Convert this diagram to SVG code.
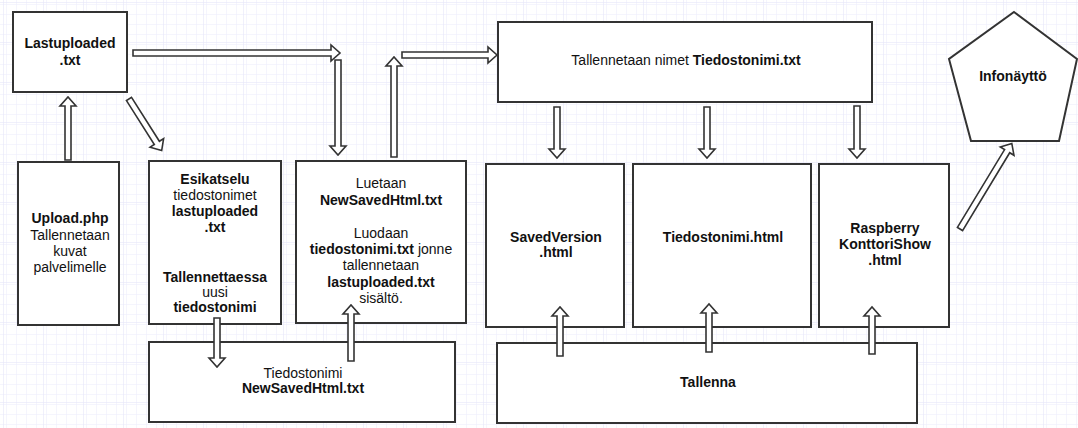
<svg xmlns="http://www.w3.org/2000/svg" width="1078" height="428" viewBox="0 0 1078 428">
  <defs>
    <pattern id="gridMinor" width="10" height="10" x="3" y="2" patternUnits="userSpaceOnUse">
      <path d="M10 0H0V10" fill="none" stroke="#ececfb" stroke-width="1"/>
    </pattern>
    <pattern id="gridMajor" width="40" height="40" x="3" y="2" patternUnits="userSpaceOnUse">
      <rect width="40" height="40" fill="url(#gridMinor)"/>
      <path d="M40 0H0V40" fill="none" stroke="#e2e2f8" stroke-width="1"/>
    </pattern>
    <style>
      .box { fill: #ffffff; stroke: #333333; stroke-width: 2; }
      .arrow { fill: #ffffff; stroke: #333333; stroke-width: 1.6; stroke-linejoin: miter; }
      text { font-family: "Liberation Sans", Arial, sans-serif; font-size: 14px; fill: #111111; text-anchor: middle; }
      .b { font-weight: bold; }
    </style>
  </defs>

  <!-- background grid -->
  <rect width="1078" height="428" fill="#ffffff"/>
  <rect width="1078" height="428" fill="url(#gridMajor)"/>

  <!-- nodes -->
  <g id="lastuploaded">
    <rect class="box" x="13" y="12" width="114" height="80"/>
    <text class="b" x="70" y="48">Lastuploaded</text>
    <text class="b" x="70" y="65">.txt</text>
  </g>

  <g id="upload">
    <rect class="box" x="18" y="162" width="101" height="163"/>
    <text class="b" x="70" y="223">Upload.php</text>
    <text x="70" y="240">Tallennetaan</text>
    <text x="70" y="256">kuvat</text>
    <text x="70" y="272">palvelimelle</text>
  </g>

  <g id="esikatselu">
    <rect class="box" x="149" y="161" width="132" height="163"/>
    <text class="b" x="215" y="184">Esikatselu</text>
    <text x="215" y="200">tiedostonimet</text>
    <text class="b" x="215" y="216">lastuploaded</text>
    <text class="b" x="215" y="232">.txt</text>
    <text class="b" x="215" y="282">Tallennettaessa</text>
    <text x="215" y="297">uusi</text>
    <text class="b" x="215" y="312">tiedostonimi</text>
  </g>

  <g id="luetaan">
    <rect class="box" x="296" y="161" width="170" height="162"/>
    <text x="381" y="188">Luetaan</text>
    <text class="b" x="381" y="205">NewSavedHtml.txt</text>
    <text x="381" y="238">Luodaan</text>
    <text x="381" y="254"><tspan class="b">tiedostonimi.txt</tspan> jonne</text>
    <text x="381" y="270">tallennetaan</text>
    <text class="b" x="381" y="287">lastuploaded.txt</text>
    <text x="381" y="303">sisältö.</text>
  </g>

  <g id="tiedostonimi-newsaved">
    <rect class="box" x="149" y="342" width="306" height="80"/>
    <text x="303" y="378">Tiedostonimi</text>
    <text class="b" x="303" y="393">NewSavedHtml.txt</text>
  </g>

  <g id="tallennetaan-nimet">
    <rect class="box" x="498" y="22" width="374" height="80"/>
    <text x="686" y="65">Tallennetaan nimet <tspan class="b">Tiedostonimi.txt</tspan></text>
  </g>

  <g id="savedversion">
    <rect class="box" x="486" y="164" width="138" height="163"/>
    <text class="b" x="556" y="242">SavedVersion</text>
    <text class="b" x="556" y="257">.html</text>
  </g>

  <g id="tiedostonimi-html">
    <rect class="box" x="633" y="164" width="178" height="163"/>
    <text class="b" x="723" y="242">Tiedostonimi.html</text>
  </g>

  <g id="raspberry">
    <rect class="box" x="819" y="164" width="130" height="163"/>
    <text class="b" x="885" y="233">Raspberry</text>
    <text class="b" x="885" y="249">KonttoriShow</text>
    <text class="b" x="885" y="265">.html</text>
  </g>

  <g id="tallenna">
    <rect class="box" x="497" y="343" width="420" height="80"/>
    <text class="b" x="708" y="387">Tallenna</text>
  </g>

  <g id="infonaytto">
    <polygon class="box" points="1014,12 1077,59 1059,141 971,141 949,59"/>
    <text class="b" x="1013" y="81">Infonäyttö</text>
  </g>

  <!-- connectors: hollow block arrows, drawn along +x then placed -->
  <g id="connectors">
    <polygon class="arrow" transform="translate(133,53)" points="0,-3 198,-3 198,-8 207,0 198,8 198,3 0,3"/>
    <polygon class="arrow" transform="translate(338,60) rotate(90)" points="0,-3 86,-3 86,-8 95,0 86,8 86,3 0,3"/>
    <polygon class="arrow" transform="translate(394,157) rotate(-90)" points="0,-3 91,-3 91,-8 100,0 91,8 91,3 0,3"/>
    <polygon class="arrow" transform="translate(402,55)" points="0,-3 86,-3 86,-8 95,0 86,8 86,3 0,3"/>
    <polygon class="arrow" transform="translate(68,160) rotate(-90)" points="0,-3 54,-3 54,-8 63,0 54,8 54,3 0,3"/>
    <polygon class="arrow" transform="translate(129,99) rotate(57.6)" points="0,-3 52,-3 52,-8 61,0 52,8 52,3 0,3"/>
    <polygon class="arrow" transform="translate(217,318) rotate(90)" points="0,-3 40,-3 40,-8 49,0 40,8 40,3 0,3"/>
    <polygon class="arrow" transform="translate(351,361) rotate(-90)" points="0,-3 47,-3 47,-8 56,0 47,8 47,3 0,3"/>
    <polygon class="arrow" transform="translate(557,107) rotate(90)" points="0,-3 42,-3 42,-8 51,0 42,8 42,3 0,3"/>
    <polygon class="arrow" transform="translate(707,107) rotate(90)" points="0,-3 42,-3 42,-8 51,0 42,8 42,3 0,3"/>
    <polygon class="arrow" transform="translate(857,106) rotate(90)" points="0,-3 43,-3 43,-8 52,0 43,8 43,3 0,3"/>
    <polygon class="arrow" transform="translate(560,356) rotate(-90)" points="0,-3 40,-3 40,-8 49,0 40,8 40,3 0,3"/>
    <polygon class="arrow" transform="translate(709,352) rotate(-90)" points="0,-3 39,-3 39,-8 48,0 39,8 39,3 0,3"/>
    <polygon class="arrow" transform="translate(872,354) rotate(-90)" points="0,-3 38,-3 38,-8 47,0 38,8 38,3 0,3"/>
    <polygon class="arrow" transform="translate(960,229) rotate(-58.8)" points="0,-3 91,-3 91,-8 100,0 91,8 91,3 0,3"/>
  </g>
</svg>
